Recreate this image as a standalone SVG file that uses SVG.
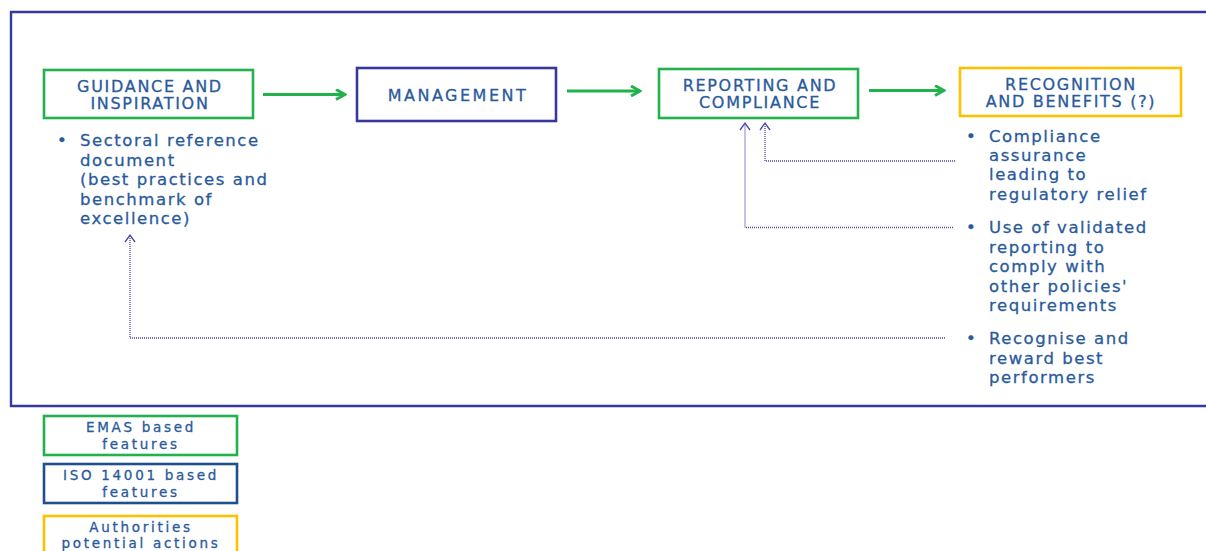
<svg xmlns="http://www.w3.org/2000/svg" width="1206" height="551" viewBox="0 0 1206 551">
<defs>
<style>
.t{font-family:"DejaVu Sans",Verdana,sans-serif;fill:#2a5a9c;stroke:#2a5a9c;stroke-width:0.3px;}
.title{font-size:16px;letter-spacing:1.7px;text-anchor:middle;}
.bul{font-size:16.5px;letter-spacing:1.55px;}
.leg{font-size:13.5px;letter-spacing:2.7px;text-anchor:middle;}
.g{fill:#fff;stroke:#22b24c;stroke-width:2.6;}
.b{fill:#fff;stroke:#37379f;stroke-width:2.6;}
.y{fill:#fff;stroke:#ffc000;stroke-width:2.6;}
.d{fill:#fff;stroke:#1f4f8f;stroke-width:2.6;}
.ga{fill:none;stroke:#22b24c;stroke-width:3;}
.pd{fill:none;stroke:#4a48ad;stroke-width:1.3;stroke-dasharray:1 1;}
</style>
<marker id="ah" viewBox="0 0 12 12" refX="10.5" refY="6" markerWidth="12" markerHeight="12" markerUnits="userSpaceOnUse" orient="auto">
<path d="M1.5,1 L10.5,6 L1.5,11" fill="none" stroke="#22b24c" stroke-width="3"/>
</marker>
<marker id="ph" viewBox="0 0 10 12" refX="8" refY="6" markerWidth="10" markerHeight="12" markerUnits="userSpaceOnUse" orient="auto">
<path d="M1,1 L8,6 L1,11" fill="none" stroke="#4a48ad" stroke-width="1.3"/>
</marker>
</defs>
<rect width="1206" height="551" fill="#fff"/>
<g id="frame">
<path d="M1210,12 H11 V406 H1210" fill="none" stroke="#3737a0" stroke-width="2.4"/>
</g>
<g id="guidance">
<rect class="g" x="44" y="70" width="209" height="48"/>
<text class="t title" x="150" y="92">GUIDANCE AND</text>
<text class="t title" x="150" y="109">INSPIRATION</text>
<text class="t bul"><tspan x="57" y="146">•</tspan><tspan x="80" y="146">Sectoral reference</tspan><tspan x="80" y="165.5">document</tspan><tspan x="80" y="185">(best practices and</tspan><tspan x="80" y="204.5">benchmark of</tspan><tspan x="80" y="224">excellence)</tspan></text>
</g>
<g id="management">
<rect class="b" x="357" y="68" width="199" height="53"/>
<text class="t title" x="458" y="101" style="letter-spacing:2.5px">MANAGEMENT</text>
</g>
<g id="reporting">
<rect class="g" x="659" y="69" width="199" height="49"/>
<text class="t title" x="760" y="91">REPORTING AND</text>
<text class="t title" x="760" y="108">COMPLIANCE</text>
</g>
<g id="recognition">
<rect class="y" x="960" y="68" width="221" height="48"/>
<text class="t title" x="1071" y="90">RECOGNITION</text>
<text class="t title" x="1071" y="107">AND BENEFITS (?)</text>
<text class="t bul"><tspan x="966" y="142">•</tspan><tspan x="989" y="142">Compliance</tspan><tspan x="989" y="161">assurance</tspan><tspan x="989" y="180">leading to</tspan><tspan x="989" y="199.5">regulatory relief</tspan></text>
<text class="t bul"><tspan x="966" y="233">•</tspan><tspan x="989" y="233">Use of validated</tspan><tspan x="989" y="252.5">reporting to</tspan><tspan x="989" y="272">comply with</tspan><tspan x="989" y="291.5">other policies'</tspan><tspan x="989" y="311">requirements</tspan></text>
<text class="t bul"><tspan x="966" y="344">•</tspan><tspan x="989" y="344">Recognise and</tspan><tspan x="989" y="363.5">reward best</tspan><tspan x="989" y="383">performers</tspan></text>
</g>
<g id="connectors">
<line class="ga" x1="263" y1="94.5" x2="345" y2="94.5" marker-end="url(#ah)"/>
<line class="ga" x1="567" y1="91" x2="640" y2="91" marker-end="url(#ah)"/>
<line class="ga" x1="869" y1="90.5" x2="944" y2="90.5" marker-end="url(#ah)"/>
<path class="pd" d="M955,161 H765 V123" marker-end="url(#ph)"/>
<path class="pd" d="M953,227.5 H745 V123" marker-end="url(#ph)"/>
<path class="pd" d="M945,338 H130 V235" marker-end="url(#ph)"/>
</g>
<g id="legend-emas">
<rect class="g" x="44" y="416" width="193" height="39"/>
<text class="t leg" x="141" y="432">EMAS based</text>
<text class="t leg" x="141" y="448.5">features</text>
</g>
<g id="legend-iso">
<rect class="d" x="44" y="464" width="193" height="39"/>
<text class="t leg" x="141" y="480">ISO 14001 based</text>
<text class="t leg" x="141" y="496.5">features</text>
</g>
<g id="legend-auth">
<rect class="y" x="44" y="516" width="193" height="45"/>
<text class="t leg" x="141" y="532">Authorities</text>
<text class="t leg" x="141" y="548">potential actions</text>
</g>
</svg>
